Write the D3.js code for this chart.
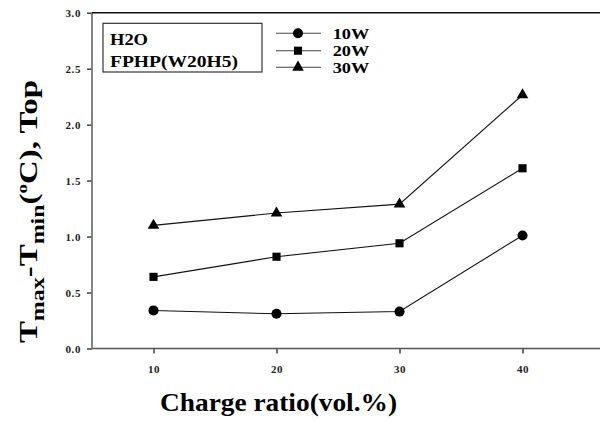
<!DOCTYPE html>
<html><head><meta charset="utf-8">
<script src="https://cdn.jsdelivr.net/npm/d3@7"></script>
<style>html,body{margin:0;background:#fff;overflow:hidden}svg{display:block}text{font-family:"Liberation Serif","Times New Roman",serif;font-weight:bold}</style>
</head><body>
<script>
const chargeRatio = [10, 20, 30, 40];
const series10W = [0.34, 0.31, 0.33, 1.01];
const series20W = [0.64, 0.82, 0.94, 1.61];
const series30W = [1.10, 1.21, 1.29, 2.265];
const seriesNames = ["10W", "20W", "30W"];
const xTicks = [10, 20, 30, 40];
const yTicks = [0, 0.5, 1.0, 1.5, 2.0, 2.5, 3.0];

const W = 600, H = 421;
const svg = d3.select("body").append("svg").attr("width", W).attr("height", H);
const x = d3.scaleLinear().domain([5, 46.3]).range([92, 600]);
const y = d3.scaleLinear().domain([0, 3]).range([348.5, 12.7]);

// axes
const gx = svg.append("g").attr("transform", `translate(0,${y(0)})`)
  .call(d3.axisBottom(x).tickValues(xTicks).tickFormat(d3.format("d")).tickSize(5).tickSizeOuter(0).tickPadding(12));
const gy = svg.append("g").attr("transform", `translate(${x(5)},0)`)
  .call(d3.axisLeft(y).tickValues(yTicks).tickFormat(d3.format(".1f")).tickSize(5).tickSizeOuter(0).tickPadding(6));
[gx, gy].forEach(g => {
  g.select(".domain").remove();
  g.selectAll(".tick line").attr("stroke", "#222").attr("stroke-width", 1.3);
  g.selectAll(".tick text").attr("fill", "#222").style("font-size", "11px")
    .style("font-family", "'Liberation Serif',serif").style("font-weight", "bold").style("letter-spacing", "0.6px");
});
// axis lines and top frame line
svg.append("line").attr("x1", x.range()[0]).attr("x2", x.range()[1]).attr("y1", y(0)).attr("y2", y(0))
  .attr("stroke", "#555").attr("stroke-width", 1.4);
svg.append("line").attr("x1", x(5)).attr("x2", x(5)).attr("y1", y(0)).attr("y2", y(3))
  .attr("stroke", "#777").attr("stroke-width", 1.8);
svg.append("line").attr("x1", x.range()[0]).attr("x2", x.range()[1]).attr("y1", y(3)).attr("y2", y(3))
  .attr("stroke", "#111").attr("stroke-width", 1.6);

const data = [series10W, series20W, series30W];
const symbols = [d3.symbolCircle, d3.symbolSquare, d3.symbolTriangle];
const sizes = [80, 66, 58];
const line = d3.line().x((d, i) => x(chargeRatio[i])).y(d => y(d));

data.forEach((s, k) => {
  svg.append("path").datum(s).attr("d", line).attr("fill", "none").attr("stroke", "#111").attr("stroke-width", 1.1);
  svg.selectAll(null).data(s).enter().append("path")
    .attr("d", d3.symbol().type(symbols[k]).size(sizes[k]))
    .attr("transform", (d, i) => `translate(${x(chargeRatio[i])},${y(d)})`)
    .attr("fill", "#000");
});

// legend
const legY = [33.3, 50.7, 67.3];
seriesNames.forEach((n, k) => {
  svg.append("line").attr("x1", 276).attr("x2", 321).attr("y1", legY[k]).attr("y2", legY[k])
    .attr("stroke", "#444").attr("stroke-width", 1.1);
  svg.append("path").attr("d", d3.symbol().type(symbols[k]).size(sizes[k]))
    .attr("transform", `translate(298,${legY[k]})`).attr("fill", "#000");
  svg.append("text").attr("x", 332.7).attr("y", legY[k] + 5.2).style("font-size", "15.5px").attr("fill", "#000")
    .attr("textLength", 36.5).attr("lengthAdjust", "spacingAndGlyphs").text(n);
});

// info box
svg.append("rect").attr("x", 103).attr("y", 23.3).attr("width", 159).attr("height", 48.7)
  .attr("fill", "none").attr("stroke", "#222").attr("stroke-width", 1.1);
svg.append("text").attr("x", 110).attr("y", 45).style("font-size", "16.5px")
  .attr("textLength", 38).attr("lengthAdjust", "spacingAndGlyphs").text("H2O");
svg.append("text").attr("x", 110).attr("y", 66.5).style("font-size", "16.5px")
  .attr("textLength", 128).attr("lengthAdjust", "spacingAndGlyphs").text("FPHP(W20H5)");

// x title
svg.append("text").attr("x", 160).attr("y", 410.5)
  .style("font-size", "26px").attr("textLength", 237).attr("lengthAdjust", "spacingAndGlyphs").text("Charge ratio(vol.%)");

// y title
const yt = svg.append("text").attr("transform", "translate(37,343) rotate(-90)")
  .style("font-size", "26px").attr("textLength", 263).attr("lengthAdjust", "spacingAndGlyphs");
yt.append("tspan").text("T");
yt.append("tspan").attr("dy", 7).style("font-size", "19px").text("max");
yt.append("tspan").attr("dy", -7).text("-T");
yt.append("tspan").attr("dy", 7).style("font-size", "19px").text("min");
yt.append("tspan").attr("dy", -7).text("(");
yt.append("tspan").attr("dy", -10).style("font-size", "15px").text("o");
yt.append("tspan").attr("dy", 10).text("C), Top");
</script>
</body></html>
